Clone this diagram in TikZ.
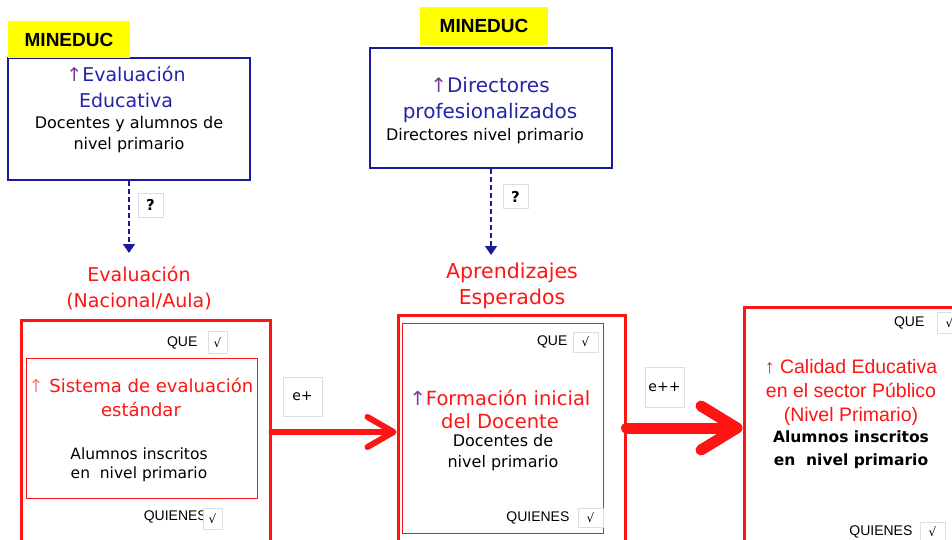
\documentclass[tikz,border=0pt]{standalone}
\usepackage{fontspec}
\setmainfont{DejaVu Sans}
\newfontfamily\arialfont{Liberation Sans}
\usepackage{xcolor}
\usepackage{tikz}
\usetikzlibrary{arrows.meta, positioning}
\definecolor{mainnavy}{HTML}{1A1A9C}
\definecolor{textnavy}{HTML}{2424A8}
\definecolor{mainred}{HTML}{FF1414}
\definecolor{tickgray}{HTML}{D8DFE8}
\definecolor{upviolet}{HTML}{7A3AA0}
\definecolor{hiyellow}{HTML}{FFFF00}
\tikzset{
    tagbox/.style={
        rectangle,
        fill=hiyellow,
        inner sep=0pt,
        font=\arialfont\bfseries\fontsize{19}{21}\selectfont
    },
    goalbox/.style={
        rectangle,
        draw=mainnavy,
        line width=2pt,
        inner sep=0pt
    },
    outerbox/.style={
        rectangle,
        draw=mainred,
        line width=3pt,
        inner sep=0pt
    },
    innerbox/.style={
        rectangle,
        draw=mainred,
        line width=1pt,
        inner sep=0pt
    },
    markbox/.style={
        rectangle,
        draw=tickgray,
        fill=white,
        line width=0.8pt,
        inner sep=0pt,
        font=\fontsize{12}{13}\selectfont
    },
    marklabel/.style={
        inner sep=0pt,
        font=\arialfont\fontsize{14}{16}\selectfont
    },
    bluetitle/.style={
        align=center,
        text=textnavy,
        inner sep=0pt,
        font=\fontsize{19}{26}\selectfont
    },
    redtitle/.style={
        align=center,
        text=mainred,
        inner sep=0pt,
        font=\fontsize{19}{26}\selectfont
    },
    plaintext/.style={
        align=center,
        inner sep=0pt,
        font=\fontsize{16}{21}\selectfont
    },
    dasharrow/.style={
        -{Triangle[length=9pt, width=12pt]},
        draw=mainnavy,
        line width=1.6pt,
        dash pattern=on 5pt off 3pt
    },
    bigarrow/.style={
        draw=mainred,
        line cap=round
    }
}

\begin{document}
\begin{tikzpicture}[x=1pt, y=-1pt]
    \useasboundingbox (0,0) rectangle (952,540);
    \clip (0,0) rectangle (952,540);

    % MINEDUC boxes
    \node[goalbox, minimum width=242, minimum height=122] (evaledu) at (129,119) {};
    \node[tagbox, minimum width=122, minimum height=37] (tag1) at (69,39.5) {MINEDUC};
    \node[bluetitle] (evaltitle) at (126,87) {{\color{upviolet}↑}Evaluación\\Educativa};
    \node[plaintext] (evalwho) at (129,135) {Docentes y alumnos de\\nivel primario};

    \node[goalbox, minimum width=242, minimum height=120] (dirpro) at (491,108) {};
    \node[tagbox, minimum width=128, minimum height=38] (tag2) at (484,26) {MINEDUC};
    \node[bluetitle, font=\fontsize{20}{26}\selectfont] (dirtitle) at (490,100) {{\color{upviolet}↑}Directores\\profesionalizados};
    \node[plaintext] (dirwho) at (485,136) {Directores nivel primario};

    % labels above the red boxes
    \node[redtitle] (evallabel) at (139,288) {Evaluación\\(Nacional/Aula)};
    \node[redtitle, font=\fontsize{20.5}{26}\selectfont] (aprlabel) at (512,286) {Aprendizajes\\Esperados};

    \coordinate (evaltip) at (129,253);
    \coordinate (dirtip) at (491,255);
    \draw[dasharrow] (evaledu.south) -- (evaltip);
    \draw[dasharrow] (dirpro.south) -- (dirtip);
    \node[markbox, minimum width=25, minimum height=24, font=\bfseries\fontsize{15}{17}\selectfont] (q1) at (150.5,205) {?};
    \node[markbox, minimum width=25, minimum height=24, font=\bfseries\fontsize{15}{17}\selectfont] (q2) at (515.5,196.5) {?};

    % first red box
    \node[outerbox, minimum width=249, minimum height=224] (sistema) at (145.5,432) {};
    \node[innerbox, minimum width=231, minimum height=140] (sisinner) at (141.5,428) {};
    \node[redtitle, font=\fontsize{18}{24}\selectfont] (sistitle) at (141,397) {{\color{mainred!55}↑} Sistema de evaluación\\estándar};
    \node[plaintext, font=\fontsize{15.5}{19}\selectfont] (siswho) at (139,465) {Alumnos inscritos\\en\ \ nivel primario};
    \node[markbox, minimum width=19, minimum height=22] (que1) at (217.5,342.5) {√};
    \node[marklabel, left=10pt of que1] (quelabel1) {QUE};
    \node[marklabel, anchor=east] (quienlabel1) at (207,517) {QUIENES};
    \node[markbox, minimum width=19, minimum height=21] (quien1) at (212.5,518.5) {√};

    % second red box
    \node[outerbox, minimum width=227, minimum height=226] (formacion) at (511.5,428) {};
    \node[innerbox, minimum width=201, minimum height=210] (forinner) at (502.5,428) {};
    \node[redtitle, font=\fontsize{19.5}{23}\selectfont] (fortitle) at (500,409) {{\color{upviolet}↑}Formación inicial\\del Docente};
    \node[plaintext] (forwho) at (503,453) {Docentes de\\nivel primario};
    \node[markbox, minimum width=25, minimum height=20] (que2) at (585.5,342) {√};
    \node[marklabel, left=5pt of que2] (quelabel2) {QUE};
    \node[markbox, minimum width=25, minimum height=19] (quien2) at (590.5,517.5) {√};
    \node[marklabel, left=8pt of quien2] (quienlabel2) {QUIENES};

    % third red box
    \node[outerbox, minimum width=240, minimum height=242] (calidad) at (864,428) {};
    \node[align=center, text=mainred, inner sep=0pt, font=\arialfont\fontsize{19.5}{24}\selectfont] (caltitle) at (851,392)
        {{\color{upviolet!70!red}↑} Calidad Educativa\\en el sector Público\\(Nivel Primario)};
    \node[plaintext, font=\bfseries\fontsize{15.5}{23}\selectfont] (calwho) at (851,450) {Alumnos inscritos\\en\ \ nivel primario};
    \node[markbox, minimum width=25, minimum height=21] (que3) at (949.5,322.5) {√};
    \node[marklabel, left=12pt of que3] (quelabel3) {QUE};
    \node[markbox, minimum width=25, minimum height=20] (quien3) at (932.5,532) {√};
    \node[marklabel, left=7pt of quien3] (quienlabel3) {QUIENES};

    % effect arrows
    \node[markbox, minimum width=39, minimum height=39, font=\fontsize{14}{16}\selectfont] (eplus) at (302.5,396.5) {e+};
    \node[markbox, minimum width=39, minimum height=40, font=\fontsize{14}{16}\selectfont] (eplusplus) at (664.5,387) {e++};
    \draw[bigarrow, line width=6pt, -{Straight Barb[round, length=26pt, width=30pt]}]
        (sistema.east) -- (sistema.east -| formacion.west);
    \draw[bigarrow, line width=11pt, -{Straight Barb[round, length=36pt, width=44pt]}]
        (formacion.east) -- (calidad.west);
\end{tikzpicture}
\end{document}
